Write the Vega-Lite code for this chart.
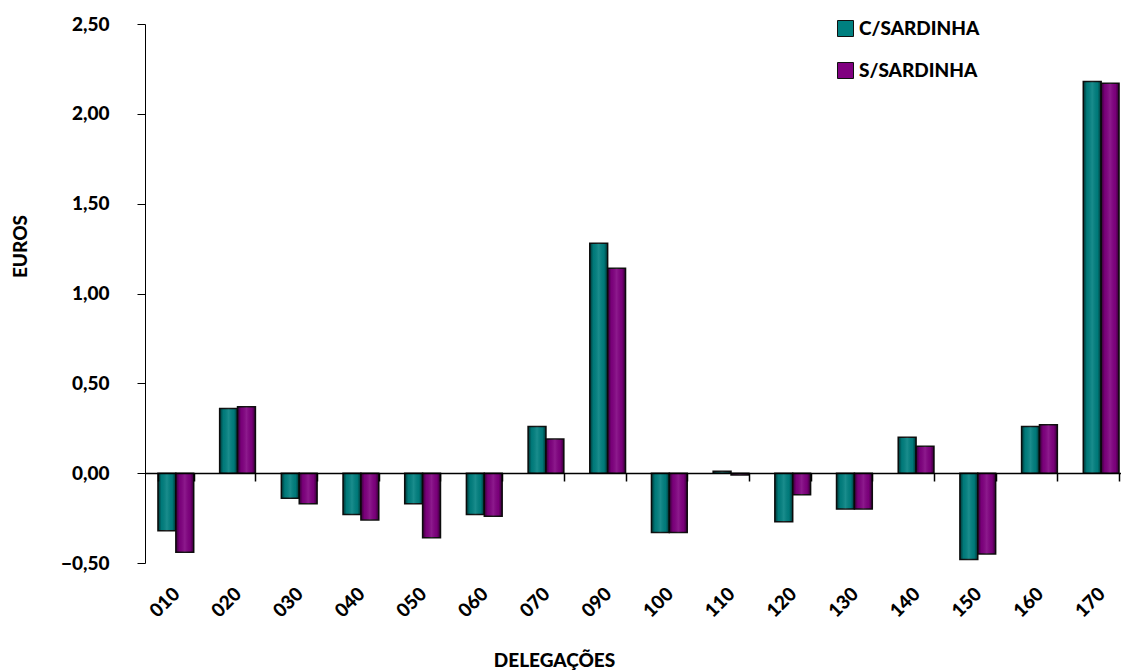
{
  "$schema": "https://vega.github.io/schema/vega-lite/v6.json",
  "width": 976,
  "height": 539,
  "autosize": {"type": "none"},
  "padding": {"left": 145, "top": 24, "right": 0, "bottom": 107},
  "background": "white",
  "config": {
    "view": {"stroke": null},
    "font": "Lato",
    "axis": {"labelFont": "Lato", "titleFont": "Lato", "labelFontWeight": 900, "titleFontWeight": 900, "labelColor": "#000", "titleColor": "#000", "domainColor": "#000", "tickColor": "#000", "grid": false}
  },
  "data": {
    "values": [
      {"delegacao": "010", "serie": "C/SARDINHA", "valor": -0.32},
      {"delegacao": "010", "serie": "S/SARDINHA", "valor": -0.44},
      {"delegacao": "020", "serie": "C/SARDINHA", "valor": 0.36},
      {"delegacao": "020", "serie": "S/SARDINHA", "valor": 0.37},
      {"delegacao": "030", "serie": "C/SARDINHA", "valor": -0.14},
      {"delegacao": "030", "serie": "S/SARDINHA", "valor": -0.17},
      {"delegacao": "040", "serie": "C/SARDINHA", "valor": -0.23},
      {"delegacao": "040", "serie": "S/SARDINHA", "valor": -0.26},
      {"delegacao": "050", "serie": "C/SARDINHA", "valor": -0.17},
      {"delegacao": "050", "serie": "S/SARDINHA", "valor": -0.36},
      {"delegacao": "060", "serie": "C/SARDINHA", "valor": -0.23},
      {"delegacao": "060", "serie": "S/SARDINHA", "valor": -0.24},
      {"delegacao": "070", "serie": "C/SARDINHA", "valor": 0.26},
      {"delegacao": "070", "serie": "S/SARDINHA", "valor": 0.19},
      {"delegacao": "090", "serie": "C/SARDINHA", "valor": 1.28},
      {"delegacao": "090", "serie": "S/SARDINHA", "valor": 1.14},
      {"delegacao": "100", "serie": "C/SARDINHA", "valor": -0.33},
      {"delegacao": "100", "serie": "S/SARDINHA", "valor": -0.33},
      {"delegacao": "110", "serie": "C/SARDINHA", "valor": 0.01},
      {"delegacao": "110", "serie": "S/SARDINHA", "valor": -0.01},
      {"delegacao": "120", "serie": "C/SARDINHA", "valor": -0.27},
      {"delegacao": "120", "serie": "S/SARDINHA", "valor": -0.12},
      {"delegacao": "130", "serie": "C/SARDINHA", "valor": -0.20},
      {"delegacao": "130", "serie": "S/SARDINHA", "valor": -0.20},
      {"delegacao": "140", "serie": "C/SARDINHA", "valor": 0.20},
      {"delegacao": "140", "serie": "S/SARDINHA", "valor": 0.15},
      {"delegacao": "150", "serie": "C/SARDINHA", "valor": -0.48},
      {"delegacao": "150", "serie": "S/SARDINHA", "valor": -0.45},
      {"delegacao": "160", "serie": "C/SARDINHA", "valor": 0.26},
      {"delegacao": "160", "serie": "S/SARDINHA", "valor": 0.27},
      {"delegacao": "170", "serie": "C/SARDINHA", "valor": 2.18},
      {"delegacao": "170", "serie": "S/SARDINHA", "valor": 2.17}
    ]
  },
  "encoding": {
    "x": {
      "field": "delegacao",
      "type": "nominal",
      "sort": null,
      "scale": {"range": [0, 987], "paddingInner": 0.42, "paddingOuter": 0.21},
      "axis": {
        "title": "DELEGAÇÕES",
        "titleFontSize": 19,
        "titleX": 409,
        "titleY": 187,
        "titleAnchor": null,
        "titleAlign": "center",
        "titleBaseline": "middle",
        "offset": -90,
        "labelAngle": -45,
        "labelFontSize": 19,
        "labelPadding": 103,
        "labelOffset": -6,
        "tickBand": "extent",
        "tickSize": 8,
        "tickWidth": 1.5,
        "domainWidth": 1.5,
        "zindex": 1
      }
    },
    "xOffset": {"field": "serie", "type": "nominal"},
    "y": {
      "field": "valor",
      "type": "quantitative",
      "scale": {"domain": [-0.5, 2.5], "nice": false, "zero": false},
      "axis": {
        "title": "EUROS",
        "titleFontSize": 19,
        "titleX": -125,
        "titleY": 222,
        "titleAngle": -90,
        "titleAlign": "center",
        "titleBaseline": "middle",
        "values": [-0.5, 0, 0.5, 1, 1.5, 2, 2.5],
        "labelExpr": "replace(format(datum.value, '.2f'), '.', ',')",
        "labelFontSize": 19,
        "labelPadding": 28,
        "tickSize": 8
      }
    }
  },
  "layer": [
    {
      "mark": {"type": "bar", "stroke": "#111", "strokeWidth": 1.5, "clip": false},
      "encoding": {
        "color": {
          "field": "serie",
          "type": "nominal",
          "scale": {"domain": ["C/SARDINHA", "S/SARDINHA"], "range": ["#008080", "#800080"]},
          "legend": {
            "title": null,
            "orient": "none",
            "legendX": 691,
            "legendY": -5,
            "symbolType": "square",
            "symbolSize": 256,
            "symbolStrokeColor": "#111",
            "symbolStrokeWidth": 1,
            "symbolOpacity": 1,
            "labelFont": "Lato",
            "labelFontWeight": 900,
            "labelFontSize": 19,
            "labelColor": "#000",
            "labelOffset": 4,
            "rowPadding": 21
          }
        }
      }
    },
    {
      "mark": {
        "type": "bar",
        "clip": false,
        "fill": {
          "gradient": "linear",
          "x1": 0, "x2": 1, "y1": 0, "y2": 0,
          "stops": [
            {"offset": 0, "color": "rgba(0,0,0,0.6)"},
            {"offset": 0.2, "color": "rgba(0,0,0,0.05)"},
            {"offset": 0.5, "color": "rgba(255,255,255,0.1)"},
            {"offset": 0.8, "color": "rgba(0,0,0,0.05)"},
            {"offset": 1, "color": "rgba(0,0,0,0.6)"}
          ]
        }
      }
    }
  ]
}
